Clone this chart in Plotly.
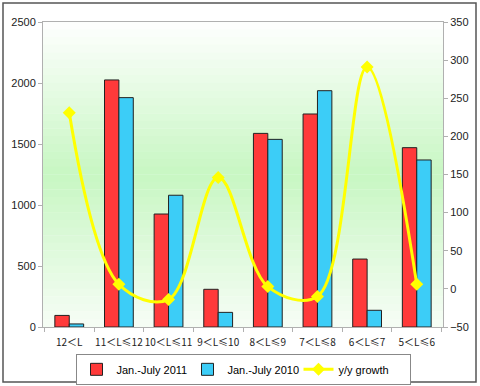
import plotly.graph_objects as go

categories = ["12＜L", "11＜L≤12", "10＜L≤11", "9＜L≤10", "8＜L≤9", "7＜L≤8", "6＜L≤7", "5＜L≤6"]
sales_2011 = [95, 2025, 926, 309, 1587, 1746, 557, 1470]
sales_2010 = [25, 1880, 1080, 120, 1538, 1937, 137, 1369]
growth = [231, 6, -14, 146, 3, -10, 291, 6]

fig = go.Figure()
fig.add_trace(go.Bar(x=categories, y=sales_2011, name="Jan.-July 2011",
                     marker=dict(color="#ff3a3a", line=dict(color="#222222", width=1))))
fig.add_trace(go.Bar(x=categories, y=sales_2010, name="Jan.-July 2010",
                     marker=dict(color="#3ccdf7", line=dict(color="#222222", width=1))))
fig.add_trace(go.Scatter(x=categories, y=growth, name="y/y growth", yaxis="y2",
                         mode="lines+markers", line=dict(color="#ffff00", width=3, shape="spline", smoothing=1.0),
                         marker=dict(symbol="diamond", size=10, color="#ffff00")))

# gradient background bands
shapes = []
n = 40
for i in range(n):
    t = (i + 0.5) / n  # 0 top -> 1 bottom
    if t < 0.5:
        k = t / 0.5
    else:
        k = 1 - (t - 0.5) / 0.5 * 0.85
    k = max(0.0, min(1.0, k))
    r = int(255 - (255 - 200) * k)
    g = int(255 - (255 - 247) * k)
    b = int(255 - (255 - 195) * k)
    shapes.append(dict(type="rect", xref="paper", yref="paper", x0=0, x1=1,
                       y0=1 - (i + 1) / n, y1=1 - i / n + 0.001,
                       fillcolor=f"rgb({r},{g},{b})", line=dict(width=0), layer="below"))
# outer frame
shapes.append(dict(type="rect", xref="paper", yref="paper", x0=-0.1, x1=1.0825, y0=-0.1803, y1=1.0623,
                   line=dict(color="#555555", width=1.5), fillcolor="rgba(0,0,0,0)", layer="above"))

tickfont = dict(family="Liberation Sans, Arial", size=11, color="#222222")
fig.update_layout(
    width=480, height=386,
    margin=dict(l=43, r=37, t=22, b=59, autoexpand=False),
    paper_bgcolor="white", plot_bgcolor="white",
    barmode="group", bargap=0.42, bargroupgap=0,
    shapes=shapes,
    showlegend=True,
    legend=dict(orientation="h", x=0.5, xanchor="center", y=-0.088, yanchor="top",
                bordercolor="#888888", borderwidth=1, bgcolor="white",
                font=dict(family="Liberation Sans, Arial", size=11, color="#000000"),
                itemwidth=30, entrywidth=66, entrywidthmode="pixels", tracegroupgap=0),
    xaxis=dict(showline=True, linecolor="#b0b0b0", mirror=True, ticks="outside", ticklen=4,
               tickcolor="#b0b0b0", tickson="boundaries", showgrid=False, tickangle=0,
               automargin=False, ticklabelstandoff=6,
               tickfont=dict(family="Noto Sans CJK SC", size=10, color="#222222")),
    yaxis=dict(range=[0, 2500], dtick=500, showline=True, linecolor="#b0b0b0", ticks="outside",
               ticklen=4, tickcolor="#b0b0b0", showgrid=False, zeroline=False, tickfont=tickfont,
               automargin=False),
    yaxis2=dict(range=[-50, 350], dtick=50, overlaying="y", side="right", showline=True,
                linecolor="#b0b0b0", ticks="outside", ticklen=4, tickcolor="#b0b0b0",
                showgrid=False, zeroline=False, tickfont=tickfont, automargin=False),
)

fig.write_html("out.html", config={"displayModeBar": False},
               post_script="document.body.style.margin='0px';document.body.style.overflow='hidden';")
